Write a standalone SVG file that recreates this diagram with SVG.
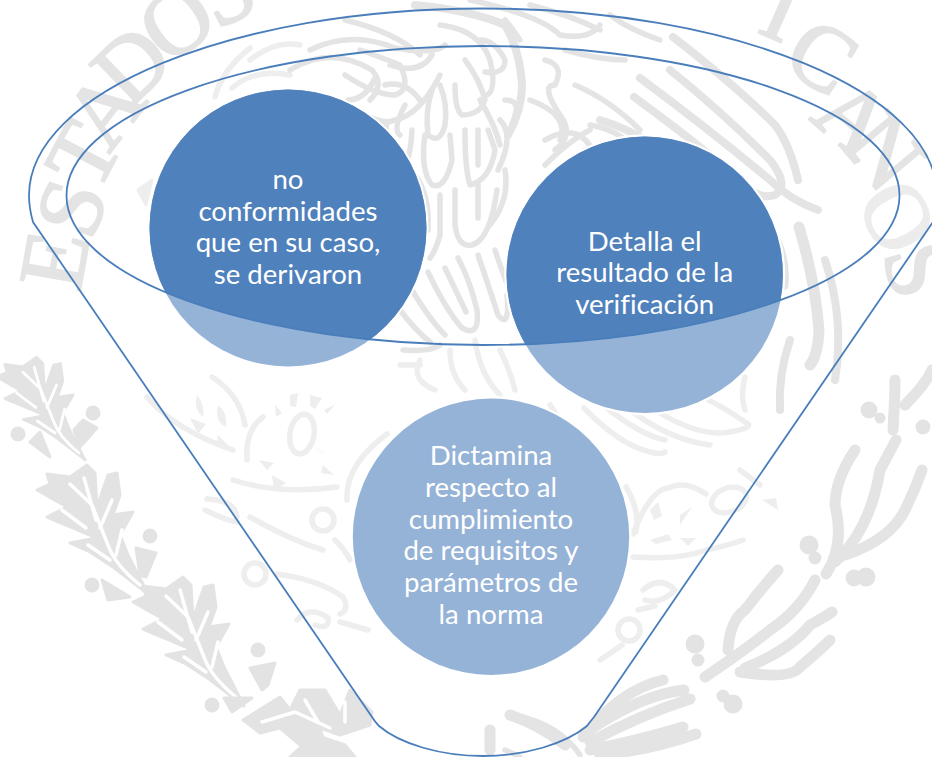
<svg xmlns="http://www.w3.org/2000/svg" width="932" height="757" viewBox="0 0 932 757">
<style>
.l{font-family:"Liberation Serif",serif;font-size:92px;fill:#e4e4e4;stroke:#e4e4e4;stroke-width:2.2;text-anchor:middle}
.lf{fill:#ececec;stroke:#ececec}
.w{fill:none;stroke:#e4e4e4;stroke-width:8;stroke-linecap:round;stroke-linejoin:round}
.n{stroke-width:5.5}
.k{stroke-width:11}
.f{stroke:#eeeeee}
.b{fill:#e3e3e3;stroke:#e3e3e3;stroke-width:3;stroke-linejoin:round}
.v{fill:none;stroke:#fff;stroke-width:3.5;stroke-linecap:round;stroke-linejoin:round}
.g{fill:#eeeeee;stroke:none}
.o{fill:none;stroke:#4a7ebb;stroke-width:1.8}
.t{font-family:Lato,"Open Sans",sans-serif;font-size:27.6px;font-variant-ligatures:none;fill:#fff;text-anchor:middle}
.h{fill:#fff}
</style>
<defs>
<clipPath id="inner"><ellipse cx="483" cy="195.5" rx="416.5" ry="149.5"/></clipPath>
<g id="leaf">
<path class="b" d="M148 594L113 567 90 552 70 543 97 538 47 517 67 507 37 490 50 484 47 474 70 477 87 465 95 473 97 507 108 475 117 473 120 495 113 515 133 512 120 535 128 555Z"/>
<path class="v" d="M140 585Q115 565 108 545Q100 525 92 505L70 484M86 528L62 510M100 528L112 500M96 520L84 478M110 560L88 545M116 555L122 530"/>
</g>
</defs>
<rect width="932" height="757" fill="#fff"/>
<g id="watermark">
<text class="l" transform="translate(55,260) rotate(-80)" y="30">E</text>
<text class="l" transform="translate(72,208) rotate(-71)" y="30">S</text>
<text class="l" transform="translate(84,155) rotate(-62)" y="30">T</text>
<text class="l" transform="translate(105,110) rotate(-53)" y="30">A</text>
<text class="l" transform="translate(132,65) rotate(-44)" y="30">D</text>
<text class="l" transform="translate(177,22) rotate(-35)" y="30">O</text>
<text class="l" transform="translate(226,-8) rotate(-27)" y="30">S</text>
<text class="l" transform="translate(782,10) rotate(24)" y="30">I</text>
<text class="l" transform="translate(822,57) rotate(32)" y="30">C</text>
<text class="l" transform="translate(853,118) rotate(41)" y="30">A</text>
<text class="l" transform="translate(884,152) rotate(50)" y="30">N</text>
<text class="l lf" transform="translate(897,217) rotate(62)" y="30">O</text>
<text class="l" transform="translate(918,270) rotate(74)" y="30">S</text>
<!-- eagle head & wing, left part -->
<path class="w n f" d="M215 97Q222 70 250 48M232 88Q255 68 290 75M250 60Q275 40 300 45"/>
<path class="b" d="M138 190L152 180 146 205Z" style="fill:#eee;stroke:#eee"/>
<path class="w n" d="M290 70Q330 45 372 70Q385 85 370 100M310 50Q350 30 395 48Q435 55 445 45M345 20Q395 32 420 55M390 65Q420 75 432 55"/>
<path class="w n" d="M345 75Q375 95 395 95Q412 90 400 65Q375 55 360 50M365 115Q385 125 395 120Q420 115 440 75M385 85Q405 80 420 100M348 100Q365 100 375 78"/>
<path class="w n" d="M405 105Q392 130 400 135M387 122Q380 160 397 172Q410 170 412 130M432 90Q425 110 428 135Q440 145 445 125Q448 105 440 85M455 85Q455 110 462 115Q480 115 485 100Q480 80 465 60M415 175Q430 195 428 230M425 135Q420 170 432 185Q445 190 452 160L450 135"/>
<path class="w n" d="M465 130Q465 170 470 185Q490 180 495 150Q490 135 488 130M478 130V165M500 120Q515 135 498 170M440 195V235Q436 250 430 258M455 190V225Q458 248 472 245Q490 240 497 190M478 185V218M505 170Q510 200 490 225"/>
<path class="w n" d="M428 272Q446 310 462 328Q480 338 477 310Q470 280 458 258M412 290Q430 320 445 335M445 268Q458 295 466 312M478 255Q490 290 498 315Q510 330 507 295M495 250Q505 280 510 290M400 310Q415 330 430 342M403 350Q430 352 440 345"/>
<path class="w n f" d="M450 350Q450 375 465 390M475 340Q480 375 500 395M420 360Q410 380 435 390M500 350Q510 370 515 390M400 365H420"/>
<!-- eagle center/neck -->
<path class="w" d="M415 5Q470 10 505 25Q520 50 522 85Q522 110 508 135"/>
<path class="w n" d="M440 25Q480 30 490 60Q497 90 487 95M485 72Q505 75 505 60Q495 40 480 40M505 100Q520 100 515 115M480 100Q495 125 500 145M520 40Q510 25 505 20"/>
<path class="w n" d="M545 60Q565 65 555 85Q540 85 560 115Q575 135 555 150M530 100Q570 115 560 140M545 140Q580 120 595 155M545 165Q570 140 590 130M565 50Q600 60 625 60M575 85Q610 100 640 130M590 125Q620 130 635 150M585 150Q615 165 625 170"/>
<path class="w n" d="M470 0Q540 15 560 35Q590 40 600 25M530 5Q570 15 600 30M660 40Q630 30 610 15"/>
<!-- long right feathers -->
<path class="w" d="M640 78Q710 130 770 180Q790 200 818 210M634 97Q700 145 745 185Q760 200 775 195Q790 185 770 160Q720 110 670 70M673 37Q735 85 775 125Q790 145 798 180M600 120Q650 135 700 180"/>
<path class="w k" d="M799 227Q815 280 819 330Q818 355 810 365M775 240Q785 260 783 285"/>
<path class="w" d="M790 340Q778 375 780 410M825 260Q845 320 835 380"/>
<path class="w n f" d="M584 408Q620 445 650 452Q662 455 665 452M603 405Q640 435 665 440M630 410Q670 440 710 445M655 410Q700 438 730 432Q752 428 748 424Q720 405 708 400M745 377Q740 395 745 410"/>
<path class="w n f" d="M520 410Q540 430 560 445M550 405Q565 430 590 445M500 420Q510 430 525 435"/>
<!-- cactus, left -->
<g>
<path class="w n f" d="M147 397Q175 430 233 450M233 480Q280 495 337 487M247 460Q245 430 263 417M347 500Q345 465 387 434M250 517Q290 540 323 550M207 499Q235 500 237 517M212 377Q240 395 245 425M277 574Q320 580 343 597Q350 610 340 614M297 620Q310 605 328 618Q330 630 315 625M340 622L368 630M205 510Q225 520 237 522M335 540Q345 550 350 560"/>
<ellipse class="w n f" cx="302" cy="434" rx="12" ry="20" transform="rotate(10 302 434)"/>
<circle class="w n f" cx="323" cy="520" r="11"/><circle class="w n f" cx="255" cy="574" r="11"/>
<path class="g" d="M197 395q8 10 6 22q-10-8-6-22M218 405q10 8 8 22q-12-6-8-22M190 418l16 6-8 10zM218 435l14 14-16-3zM272 475l14 8-12 8zM323 465l11 10-13-2zM290 395l8-2-2 14-6-1zM310 395l12 3-7 11-5-3zM334 405l3-3-10 12-3-4zM275 405l7 8-6 4zM267 470l-8-10 15 3zM320 450l-5-2 10 6z"/>
</g>
<!-- cactus, right -->
<g>
<path class="w n f" d="M626 487Q640 510 636 532M633 534Q650 490 668 488Q685 480 706 494M633 557Q680 560 706 550Q730 545 743 540M643 590Q660 575 675 590Q660 605 645 600M638 610L655 606M740 470L760 485M600 660Q615 650 622 645"/>
<ellipse class="w n f" cx="729" cy="500" rx="18" ry="12" transform="rotate(-20 729 500)"/>
<circle class="w n f" cx="629" cy="630" r="11"/>
<path class="g" d="M650 510l8-8 4 14-8 4zM680 515l12-8-12 18zM650 540l18-6 4 6-16 4zM680 538l16 0-8 8zM762 500l14-2 2 12z"/>
</g>
<!-- left oak branch -->
<g>
<use href="#leaf" transform="translate(-33,-15) scale(.8)"/>
<use href="#leaf"/>
<use href="#leaf" transform="translate(96,112)"/>
<path class="b" d="M243 720L280 697 290 710 300 690 325 690 340 715 350 690 372 712 370 725 340 735 320 728 325 745 300 745 280 728 260 733Z"/>
<path class="b" d="M290 757L315 735 345 745 355 757Z"/>
<path class="v" d="M262 722L295 712 330 728M305 700L318 722M345 702L345 722"/>
<g class="b"><circle cx="93" cy="413" r="6"/><path d="M83 420L97 428 80 447 74 430ZM40 432L50 457 30 442Z"/><circle cx="18" cy="434" r="6"/>
<circle cx="150" cy="536" r="6"/><path d="M136 548L156 553 146 577 140 575ZM102 580L130 597 108 600Z"/><circle cx="92" cy="585" r="6"/>
<circle cx="258" cy="650" r="6"/><path d="M250 668L275 663 268 685 262 690ZM224 698L252 698 232 712Z"/><circle cx="212" cy="705" r="6"/></g>
</g>
<!-- right leaves -->
<g>
<path class="w k" d="M826 574Q845 545 835 505Q835 480 855 450M835 562Q870 530 880 470L896 440M845 555Q890 540 905 510Q915 490 922 470"/>
<path class="w k" d="M905 405Q925 385 932 370M895 380Q895 395 893 430"/>
<g class="b"><circle cx="809" cy="545" r="8"/><circle cx="815" cy="558" r="5"/><circle cx="854" cy="578" r="7"/><circle cx="866" cy="577" r="8"/><circle cx="869" cy="410" r="7"/><circle cx="880" cy="418" r="4"/><circle cx="923" cy="427" r="6"/></g>
<path class="w k" d="M705 677Q745 650 770 630Q800 610 815 580M728 650Q730 620 745 610Q760 590 778 570M745 668Q790 650 810 625Q825 617 832 612M740 672Q790 680 800 667Q820 650 830 640"/>
<g class="b"><circle cx="695" cy="644" r="8"/><circle cx="698" cy="660" r="5"/><circle cx="723" cy="696" r="5"/><circle cx="733" cy="704" r="8"/></g>
<path class="w k" d="M583 737Q620 690 663 680M585 733Q640 695 684 690M590 742Q640 715 690 699M590 750Q640 740 683 727M600 755Q650 750 696 734M510 715Q540 725 565 745M490 730V750"/>
<path class="w n" d="M515 715Q560 725 580 755M505 750L520 757"/>
</g>
</g>
<g id="nodes">
<g id="node-conformidades">
<circle class="h" cx="288" cy="228" r="140.5"/>
<circle cx="288" cy="228" r="138.5" fill="#95b3d7"/>
<circle cx="288" cy="228" r="138.5" fill="#4f81bd" clip-path="url(#inner)"/>
<text class="t" x="288" y="189">no</text>
<text class="t" x="288" y="220.7">conformidades</text>
<text class="t" x="288" y="252.4">que en su caso,</text>
<text class="t" x="288" y="284">se derivaron</text>
</g>
<g id="node-detalla">
<circle class="h" cx="644.7" cy="274.7" r="140.5"/>
<circle cx="644.7" cy="274.7" r="138.2" fill="#95b3d7"/>
<circle cx="644.7" cy="274.7" r="138.2" fill="#4f81bd" clip-path="url(#inner)"/>
<text class="t" x="644.7" y="250.7">Detalla el</text>
<text class="t" x="644.7" y="282.3">resultado de la</text>
<text class="t" x="644.7" y="313.9">verificación</text>
</g>
<g id="node-dictamina">
<circle class="h" cx="491" cy="536.7" r="140.5"/>
<circle cx="491" cy="536.7" r="138.2" fill="#95b3d7"/>
<text class="t" x="491" y="465">Dictamina</text>
<text class="t" x="491" y="496.8">respecto al</text>
<text class="t" x="491" y="528.6">cumplimiento</text>
<text class="t" x="491" y="560.4">de requisitos y</text>
<text class="t" x="491" y="592.2">parámetros de</text>
<text class="t" x="491" y="624">la norma</text>
</g>
</g>
<g id="connectors">
<ellipse class="o" cx="483" cy="195.5" rx="416.5" ry="149.5"/>
<path class="o" d="M33 222Q29 208 29 195.5C29 92 233 8.5 483 8.5S937 92 937 195.5Q937 208 933 222L594 717Q590 722 587 726C565 744 525 756 483 756S400 744 379 726Q375 722 372 717Z"/>
</g>
</svg>
